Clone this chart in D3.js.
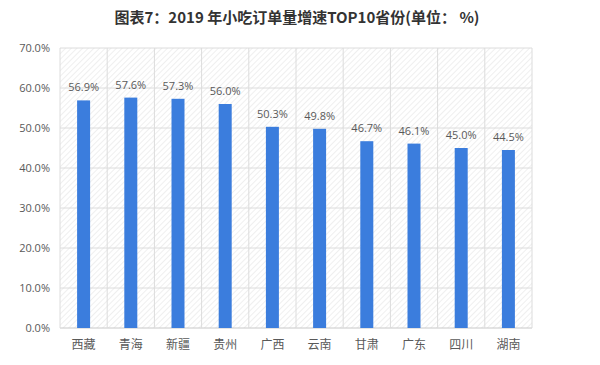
<!DOCTYPE html>
<html><head><meta charset="utf-8">
<script src="https://cdn.jsdelivr.net/npm/d3@7"></script>
<style>body{margin:0;background:#fff;}svg{display:block;}</style>
</head><body>
<script>
const categories = ["西藏","青海","新疆","贵州","广西","云南","甘肃","广东","四川","湖南"];
const values = [56.9,57.6,57.3,56.0,50.3,49.8,46.7,46.1,45.0,44.5];
const yTicks = [0,10,20,30,40,50,60,70];
const title = "图表7：2019 年小吃订单量增速TOP10省份(单位： %)";

const W=600,H=365;
const m={left:60,right:68,top:48,bottom:37};
const svg=d3.select("body").append("svg").attr("width",W).attr("height",H);
const defs=svg.append("defs");
const pat=defs.append("pattern").attr("id","hatch").attr("patternUnits","userSpaceOnUse")
  .attr("width",4).attr("height",4).attr("patternTransform","rotate(45)");
pat.append("line").attr("x1",0).attr("y1",0).attr("x2",0).attr("y2",4)
  .attr("stroke","#e4e4e4").attr("stroke-width",1.2);

const x=d3.scaleBand().domain(categories).range([m.left,W-m.right]).padding(0);
const y=d3.scaleLinear().domain([0,70]).range([H-m.bottom,m.top]);

svg.append("rect").attr("x",m.left).attr("y",m.top).attr("width",W-m.left-m.right)
  .attr("height",H-m.top-m.bottom).attr("fill","url(#hatch)");

// horizontal grid
svg.append("g").selectAll("line").data(yTicks).join("line")
  .attr("x1",m.left).attr("x2",W-m.right).attr("y1",d=>y(d)).attr("y2",d=>y(d))
  .attr("stroke",d=>d===0?"#c8c8c8":"#dcdcdc").attr("stroke-width",1);
// vertical grid
const vb=categories.map(c=>x(c)).concat([W-m.right]);
svg.append("g").selectAll("line").data(vb).join("line")
  .attr("x1",d=>d).attr("x2",d=>d).attr("y1",y(70)).attr("y2",y(0))
  .attr("stroke","#dcdcdc").attr("stroke-width",1);

// y labels
const yAxis=d3.axisLeft(y).tickValues(yTicks).tickFormat(d=>d.toFixed(1)+"%").tickSize(0).tickPadding(10);
const ga=svg.append("g").attr("transform",`translate(${m.left},0)`).call(yAxis);
ga.select(".domain").remove();
ga.selectAll("text").attr("font-family","'Open Sans','DejaVu Sans',sans-serif").attr("font-size",11).attr("fill","#595959");

// x labels
const xAxis=d3.axisBottom(x).tickSize(0).tickPadding(12);
const gx=svg.append("g").attr("transform",`translate(0,${y(0)})`).call(xAxis);
gx.select(".domain").remove();
gx.selectAll("text").attr("font-family","'Noto Sans CJK SC',sans-serif").attr("font-size",12).attr("fill","#595959");

const bw=13;
svg.append("g").selectAll("rect").data(values).join("rect")
  .attr("x",(d,i)=>x(categories[i])+x.bandwidth()/2-bw/2)
  .attr("width",bw).attr("y",d=>y(d)).attr("height",d=>y(0)-y(d))
  .attr("fill","#3b7ddd");

svg.append("g").selectAll("text").data(values).join("text")
  .attr("x",(d,i)=>x(categories[i])+x.bandwidth()/2)
  .attr("y",d=>y(d)-9).attr("text-anchor","middle")
  .attr("font-family","'Open Sans','DejaVu Sans',sans-serif").attr("font-size",11).attr("fill","#595959")
  .text(d=>d.toFixed(1)+"%");

svg.append("text").attr("x",297).attr("y",23).attr("text-anchor","middle")
  .attr("font-family","'Noto Sans CJK SC',sans-serif").attr("font-weight","bold").attr("font-size",15)
  .attr("fill","#333").text(title);
</script>
</body></html>
